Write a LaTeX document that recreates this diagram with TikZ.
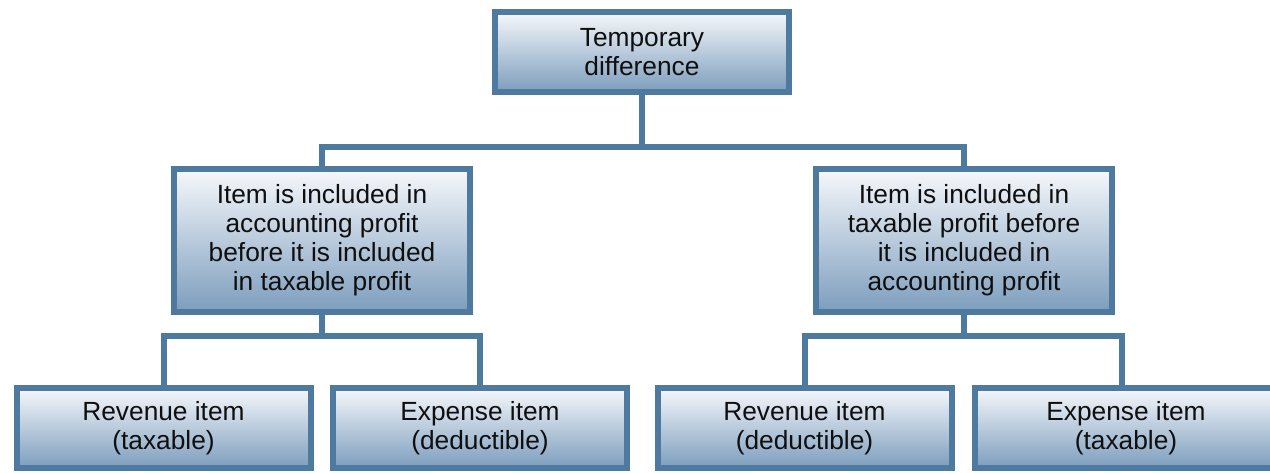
\documentclass[tikz,border=0pt]{standalone}
\usepackage{fontspec}
\setmainfont{Liberation Sans}
\definecolor{bordc}{RGB}{78,122,160}
\definecolor{topc}{RGB}{246,248,251}
\definecolor{botc}{RGB}{124,157,189}
\definecolor{txtc}{RGB}{15,15,15}
\newcommand{\boxfont}{\fontsize{26.3}{29}\selectfont}
\tikzset{
  box/.style={draw=bordc, line width=6pt, top color=topc, bottom color=botc,
    minimum width=294pt, minimum height=80pt, inner sep=0pt, align=center,
    font=\boxfont, text=txtc},
  midbox/.style={box, minimum width=296pt, minimum height=143pt},
  conn/.style={draw=bordc, line width=6pt, line join=miter}
}
\begin{document}
\begin{tikzpicture}[x=1pt,y=-1pt]
\useasboundingbox (0,0) rectangle (1270,472);
\fill[white] (0,0) rectangle (1270,472);
\coordinate (j1) at (642,147);
\coordinate (j2) at (322,336);
\coordinate (j3) at (964,336);
\node[box] (top) at (642,52) {Temporary\\difference};
\node[midbox] (ml) at (322,240.5) {Item is included in\\accounting profit\\before it is included\\in taxable profit};
\node[midbox] (mr) at (964,240.5) {Item is included in\\taxable profit before\\it is included in\\accounting profit};
\node[box] (b1) at (163.5,428) {Revenue item\\(taxable)};
\node[box] (b2) at (480,428) {Expense item\\(deductible)};
\node[box] (b3) at (804.5,428) {Revenue item\\(deductible)};
\node[box, minimum width=302pt] (b4) at (1126,428) {Expense item\\(taxable)};
\draw[conn] (top.south) -- (j1);
\draw[conn] (ml.north) |- (j1) -| (mr.north);
\draw[conn] (ml.south) -- (j2);
\draw[conn] (b1.north) |- (j2) -| (b2.north);
\draw[conn] (mr.south) -- (j3);
\draw[conn] (b3.north) |- (j3) -| ([xshift=-4pt]b4.north);
\end{tikzpicture}
\end{document}
